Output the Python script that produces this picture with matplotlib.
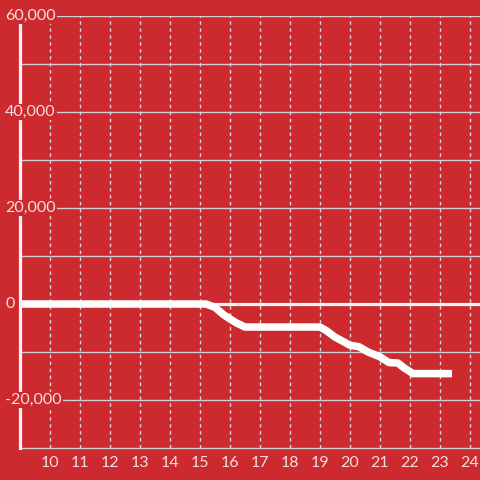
import matplotlib.pyplot as plt
from matplotlib.transforms import blended_transform_factory

hours = [9, 15.2, 15.5, 15.8, 16.2, 16.5, 19.0, 19.2, 19.5, 19.8, 20.0, 20.3,
         20.6, 21.0, 21.3, 21.6, 21.8, 22.1, 23.4]
values = [0, 0, -700, -2300, -3900, -4800, -4800, -5500, -6900, -7900, -8600,
          -8900, -10000, -11000, -12200, -12300, -13300, -14500, -14500]
x_ticks = list(range(10, 25))
y_ticks = [-20000, 0, 20000, 40000, 60000]
y_labels = ['-20,000', '0', '20,000', '40,000', '60,000']

bg = '#cc2a2f'
txt = '#f3dede'
plt.rcParams['font.family'] = ['Lato', 'DejaVu Sans']

fig = plt.figure(figsize=(4.8, 4.8), dpi=100, facecolor=bg)
ax = fig.add_axes([20 / 480, 32 / 480, 460 / 480, 432 / 480])
ax.set_facecolor(bg)
ax.set_xlim(9, 9 + 460 / 30)
ax.set_ylim(-30000, 60000)

# grid
for v in range(-20000, 60001, 10000):
    ax.axhline(v, color='#d0d0d0', lw=1, zorder=1)
for t in x_ticks:
    ax.axvline(t, color='#d8d8d8', lw=1, ls=(0, (2.5, 2.5)), zorder=1)

ax.axhline(0, color='#f2f2f2', lw=2.3, zorder=2)
ax.plot(hours, values, color='white', lw=5.4, solid_capstyle='butt',
        solid_joinstyle='round', zorder=3)

for s in ['top', 'right']:
    ax.spines[s].set_visible(False)
ax.spines['bottom'].set_color('#d0d0d0')
ax.spines['bottom'].set_linewidth(1)
ax.spines['left'].set_color('#f2f2f2')
ax.spines['left'].set_linewidth(2.3)
ax.spines['left'].set_zorder(4)

ax.set_xticks(x_ticks)
ax.tick_params(axis='x', length=0, pad=6, labelsize=11.5, colors=txt)
ax.set_yticks([])

tr = blended_transform_factory(fig.transFigure, ax.transData)
for v, lab in zip(y_ticks, y_labels):
    ax.text(5 / 480, v, lab, transform=tr, ha='left', va='center',
            fontsize=11.5, color=txt, zorder=5, clip_on=False,
            bbox=dict(facecolor=bg, edgecolor='none', pad=1))

fig.savefig('out.png', dpi=100, facecolor=bg)
